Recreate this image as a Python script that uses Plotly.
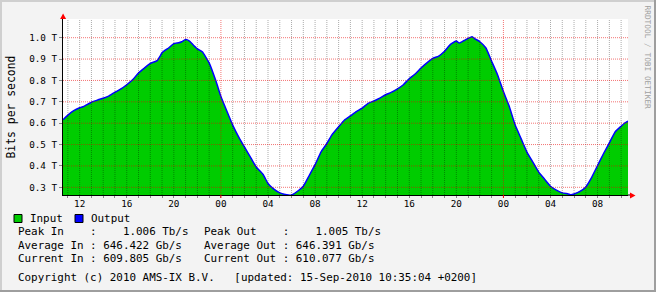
import plotly.graph_objects as go
import pandas as pd

# ---------------- data (Tb/s) ----------------
times = [
    "2010-09-13 10:35", "2010-09-13 11:00", "2010-09-13 11:30", "2010-09-13 12:00", "2010-09-13 12:20",
    "2010-09-13 13:00", "2010-09-13 13:30", "2010-09-13 14:00", "2010-09-13 14:30", "2010-09-13 15:00",
    "2010-09-13 15:30", "2010-09-13 16:00", "2010-09-13 16:30", "2010-09-13 17:00", "2010-09-13 17:30",
    "2010-09-13 18:00", "2010-09-13 18:35", "2010-09-13 18:50", "2010-09-13 19:00", "2010-09-13 19:35",
    "2010-09-13 20:00", "2010-09-13 20:25", "2010-09-13 20:40", "2010-09-13 21:00", "2010-09-13 21:20",
    "2010-09-13 21:40", "2010-09-13 22:00", "2010-09-13 22:25", "2010-09-13 23:00", "2010-09-13 23:35",
    "2010-09-14 00:00", "2010-09-14 00:40", "2010-09-14 01:00", "2010-09-14 01:35", "2010-09-14 02:00",
    "2010-09-14 02:35", "2010-09-14 03:00", "2010-09-14 03:35", "2010-09-14 04:00", "2010-09-14 04:25",
    "2010-09-14 05:00", "2010-09-14 05:35", "2010-09-14 06:00", "2010-09-14 06:25", "2010-09-14 07:00",
    "2010-09-14 07:30", "2010-09-14 08:00", "2010-09-14 08:30", "2010-09-14 09:00", "2010-09-14 09:25",
    "2010-09-14 10:00", "2010-09-14 10:30", "2010-09-14 11:00", "2010-09-14 11:30", "2010-09-14 12:00",
    "2010-09-14 12:30", "2010-09-14 13:00", "2010-09-14 13:30", "2010-09-14 14:00", "2010-09-14 14:30",
    "2010-09-14 15:00", "2010-09-14 15:30", "2010-09-14 16:00", "2010-09-14 16:30", "2010-09-14 17:00",
    "2010-09-14 17:30", "2010-09-14 18:00", "2010-09-14 18:30", "2010-09-14 19:00", "2010-09-14 19:30",
    "2010-09-14 20:00", "2010-09-14 20:15", "2010-09-14 20:40", "2010-09-14 21:00", "2010-09-14 21:20",
    "2010-09-14 21:35", "2010-09-14 22:00", "2010-09-14 22:30", "2010-09-14 23:00", "2010-09-14 23:30",
    "2010-09-15 00:00", "2010-09-15 00:30", "2010-09-15 01:00", "2010-09-15 01:30", "2010-09-15 02:00",
    "2010-09-15 02:30", "2010-09-15 03:00", "2010-09-15 03:30", "2010-09-15 04:00", "2010-09-15 04:30",
    "2010-09-15 05:00", "2010-09-15 05:30", "2010-09-15 05:45", "2010-09-15 06:00", "2010-09-15 06:30",
    "2010-09-15 07:00", "2010-09-15 07:30", "2010-09-15 08:00", "2010-09-15 08:30", "2010-09-15 09:00",
    "2010-09-15 09:30", "2010-09-15 10:00", "2010-09-15 10:20", "2010-09-15 10:35",
]
input_tb = [
    0.615, 0.638, 0.659, 0.672, 0.678,
    0.698, 0.708, 0.717, 0.728, 0.745,
    0.760, 0.780, 0.803, 0.835, 0.858,
    0.880, 0.893, 0.914, 0.930, 0.953,
    0.972, 0.976, 0.981, 0.991, 0.984,
    0.965, 0.948, 0.934, 0.882, 0.796,
    0.725, 0.635, 0.591, 0.528, 0.489,
    0.434, 0.395, 0.360, 0.318, 0.295,
    0.274, 0.265, 0.264, 0.278, 0.305,
    0.355, 0.406, 0.465, 0.505, 0.544,
    0.583, 0.615, 0.634, 0.654, 0.670,
    0.693, 0.704, 0.717, 0.733, 0.745,
    0.761, 0.780, 0.808, 0.830, 0.858,
    0.882, 0.903, 0.914, 0.937, 0.969,
    0.984, 0.975, 0.987, 0.997, 1.006,
    0.995, 0.981, 0.953, 0.890, 0.827,
    0.748, 0.678, 0.591, 0.528, 0.465,
    0.418, 0.371, 0.338, 0.305, 0.287,
    0.274, 0.269, 0.265, 0.269, 0.281,
    0.302, 0.347, 0.402, 0.457, 0.508,
    0.560, 0.586, 0.602, 0.610,
]
output_tb = [
    0.616, 0.638, 0.659, 0.672, 0.678,
    0.698, 0.708, 0.717, 0.728, 0.745,
    0.760, 0.780, 0.803, 0.835, 0.858,
    0.880, 0.893, 0.914, 0.930, 0.953,
    0.972, 0.976, 0.981, 0.991, 0.984,
    0.965, 0.948, 0.934, 0.882, 0.796,
    0.725, 0.635, 0.591, 0.528, 0.489,
    0.434, 0.395, 0.360, 0.318, 0.295,
    0.274, 0.265, 0.264, 0.278, 0.305,
    0.355, 0.406, 0.465, 0.505, 0.544,
    0.583, 0.615, 0.634, 0.654, 0.670,
    0.693, 0.704, 0.717, 0.733, 0.745,
    0.761, 0.780, 0.808, 0.830, 0.858,
    0.882, 0.903, 0.914, 0.937, 0.969,
    0.984, 0.975, 0.987, 0.997, 1.005,
    0.995, 0.981, 0.953, 0.890, 0.827,
    0.748, 0.678, 0.591, 0.528, 0.465,
    0.418, 0.371, 0.338, 0.305, 0.287,
    0.274, 0.269, 0.265, 0.269, 0.281,
    0.302, 0.347, 0.402, 0.457, 0.508,
    0.560, 0.586, 0.602, 0.610,
]
ytick_vals = [0.3, 0.4, 0.5, 0.6, 0.7, 0.8, 0.9, 1.0]
ytick_text = ["0.3 T", "0.4 T", "0.5 T", "0.6 T", "0.7 T", "0.8 T", "0.9 T", "1.0 T"]
x_start = "2010-09-13 10:35:04"
x_end = "2010-09-15 10:35:04"
y_range = [0.264, 1.0875]

stats_in = ["Peak In    :    1.006 Tb/s",
            "Average In : 646.422 Gb/s",
            "Current In : 609.805 Gb/s"]
stats_out = ["Peak Out    :    1.005 Tb/s",
             "Average Out : 646.391 Gb/s",
             "Current Out : 610.077 Gb/s"]
footer = "Copyright (c) 2010 AMS-IX B.V.   [updated: 15-Sep-2010 10:35:04 +0200]"

# ---------------- layout geometry ----------------
W, H = 656, 292
L, R, T, B = 63, 28, 19, 97
PW, PH = W - L - R, H - T - B
BOT = H - B


def xp(px):
    return (px - L) / PW


def yp(py):
    return (BOT - py) / PH


def nb(s):
    return s.replace(" ", "\u00a0")


MONO = "DejaVu Sans Mono"
GREEN = "#00cc00"
BLUE = "#0000ff"
GRID = "rgba(0,0,0,0.33)"
MGRID = "rgba(235,0,0,0.55)"

fig = go.Figure()
fig.add_trace(go.Scatter(x=times, y=input_tb, mode="lines", fill="tozeroy",
                         fillcolor=GREEN, line=dict(width=0, color=GREEN, shape="spline", smoothing=0.4),
                         showlegend=False, hoverinfo="skip"))
fig.add_trace(go.Scatter(x=times, y=output_tb, mode="lines",
                         line=dict(width=1.5, color=BLUE, shape="spline", smoothing=0.4),
                         showlegend=False, hoverinfo="skip"))

shapes = []
# hourly grid (above traces, as rrdtool draws it)
for h in pd.date_range("2010-09-13 11:00", "2010-09-15 10:00", freq="h"):
    midnight = h.hour == 0
    shapes.append(dict(type="line", xref="x", yref="paper", x0=h, x1=h, y0=0, y1=1,
                       layer="above",
                       line=dict(color=MGRID if midnight else GRID, width=1, dash="1px,1px")))
    if midnight:
        shapes.append(dict(type="line", xref="x", yref="paper", x0=h, x1=h, y0=yp(198), y1=0,
                           layer="above", line=dict(color="#ff0000", width=1)))
for v in ytick_vals:
    shapes.append(dict(type="line", xref="paper", yref="y", x0=0, x1=1, y0=v, y1=v,
                       layer="above", line=dict(color=MGRID, width=1, dash="1px,1px")))

# axis arrows
shapes.append(dict(type="path", xref="paper", yref="paper", layer="above",
                   path=f"M{xp(60.1)},{yp(19)} L{xp(63.1)},{yp(13.5)} L{xp(66.1)},{yp(19)} Z",
                   fillcolor="#ff0000", line=dict(width=0)))
shapes.append(dict(type="line", xref="paper", yref="paper", layer="above",
                   x0=1, x1=xp(631), y0=0, y1=0, line=dict(color="#000000", width=1)))
shapes.append(dict(type="path", xref="paper", yref="paper", layer="above",
                   path=f"M{xp(630)},{yp(192.5)} L{xp(635.5)},{yp(195.5)} L{xp(630)},{yp(198.5)} Z",
                   fillcolor="#ff0000", line=dict(width=0)))

# legend boxes
for x0, col in [(14, GREEN), (75, BLUE)]:
    shapes.append(dict(type="rect", xref="paper", yref="paper",
                       x0=xp(x0), x1=xp(x0 + 8), y0=yp(222.5), y1=yp(214.5),
                       fillcolor=col, line=dict(color="#000000", width=1)))

# 3D frame
shapes += [
    dict(type="rect", xref="paper", yref="paper", x0=xp(0), x1=xp(W), y0=yp(0), y1=yp(2),
         fillcolor="#cfcfcf", line=dict(width=0)),
    dict(type="rect", xref="paper", yref="paper", x0=xp(0), x1=xp(2), y0=yp(0), y1=yp(H),
         fillcolor="#cfcfcf", line=dict(width=0)),
    dict(type="rect", xref="paper", yref="paper", x0=xp(0), x1=xp(W), y0=yp(H - 2), y1=yp(H),
         fillcolor="#9e9e9e", line=dict(width=0)),
    dict(type="rect", xref="paper", yref="paper", x0=xp(W - 2), x1=xp(W), y0=yp(0), y1=yp(H),
         fillcolor="#9e9e9e", line=dict(width=0)),
]

LF = 10.9
ann = []
ann.append(dict(text="Bits per second", x=xp(10.5), y=yp(107), textangle=-90, xanchor="center",
                font=dict(family=MONO, size=11.4, color="#000000")))
ann.append(dict(text="RRDTOOL / TOBI OETIKER", x=xp(647.5), y=yp(57), textangle=90, xanchor="center",
                font=dict(family=MONO, size=7.8, color="#a0a0a0")))
ann.append(dict(text="Input", x=xp(28), y=yp(218.5), xanchor="left",
                font=dict(family=MONO, size=LF, color="#000000")))
ann.append(dict(text="Output", x=xp(89), y=yp(218.5), xanchor="left",
                font=dict(family=MONO, size=LF, color="#000000")))
for i, (a, b) in enumerate(zip(stats_in, stats_out)):
    yy = yp(231.8 + i * 13.3)
    ann.append(dict(text=nb(a), x=xp(16), y=yy, xanchor="left",
                    font=dict(family=MONO, size=LF, color="#000000")))
    ann.append(dict(text=nb(b), x=xp(202), y=yy, xanchor="left",
                    font=dict(family=MONO, size=LF, color="#000000")))
ann.append(dict(text=nb(footer), x=xp(16), y=yp(277.3), xanchor="left",
                font=dict(family=MONO, size=LF, color="#000000")))
for a in ann:
    a.update(xref="paper", yref="paper", showarrow=False, yanchor=a.get("yanchor", "middle"))

fig.update_layout(
    width=W, height=H,
    margin=dict(l=L, r=R, t=T, b=B, pad=0),
    paper_bgcolor="#f3f3f3", plot_bgcolor="#ffffff",
    shapes=shapes, annotations=ann, showlegend=False,
    font=dict(family=MONO, color="#000000"),
    xaxis=dict(type="date", range=[x_start, x_end], showgrid=False, zeroline=False,
               tick0="2010-09-13 00:00", dtick=4 * 3600 * 1000, tickformat="%H",
               ticks="outside", ticklen=2, tickcolor="#888888",
               minor=dict(dtick=3600 * 1000, ticks="outside", ticklen=2, tickcolor="#888888",
                          showgrid=False),
               showline=True, linecolor="#000000", linewidth=1,
               tickfont=dict(family=MONO, size=9.3, color="#000000"),
               ticklabelstandoff=-2, fixedrange=True),
    yaxis=dict(range=y_range, showgrid=False, zeroline=False,
               tickvals=ytick_vals, ticktext=ytick_text,
               ticks="outside", ticklen=3, tickcolor="#888888",
               showline=True, linecolor="#000000", linewidth=1,
               tickfont=dict(family=MONO, size=9.3, color="#000000"),
               ticklabelstandoff=0, fixedrange=True),
)

fig.write_html("out.html")
